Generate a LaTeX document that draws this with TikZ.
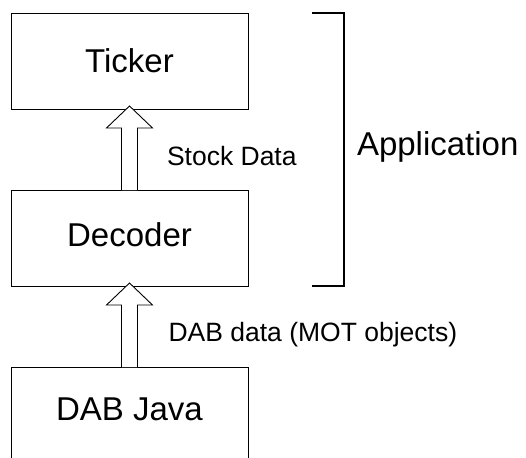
\documentclass[tikz,border=0pt]{standalone}
\usepackage{fontspec}
\setmainfont{Liberation Sans}
\usetikzlibrary{calc}
\tikzset{
  box/.style={draw=black, line width=0.9pt, minimum width=237pt, minimum height=96pt,
    inner sep=0pt, outer sep=0pt, font=\fontsize{33}{40}\selectfont},
  fatarrow/.style={draw=black, line width=0.9pt, fill=white, line join=miter},
  lbl/.style={inner sep=0pt, outer sep=0pt, font=\fontsize{26.5}{32}\selectfont},
  biglbl/.style={inner sep=0pt, outer sep=0pt, font=\fontsize{33}{40}\selectfont},
  bracket/.style={draw=black, line width=2pt}
}
\begin{document}
\begin{tikzpicture}[x=1pt, y=-1pt]
\clip (0,0) rectangle (526,457);
\fill[white] (0,0) rectangle (526,457);
\node[box] (tick) at (129.5,61) {Ticker};
\node[box, text depth=6pt] (dec) at (129.5,238) {Decoder};
\node[box, text depth=12pt] (dab) at (129.5,415) {DAB Java};
% fat arrows
\draw[fatarrow] ($(dec.north)+(-8,0)$) -- ($(tick.south)+(-8,19)$) -- ($(tick.south)+(-23,19)$)
  -- ($(tick.south)+(0,-3)$) -- ($(tick.south)+(23,19)$) -- ($(tick.south)+(8,19)$)
  -- ($(dec.north)+(8,0)$);
\draw[fatarrow] ($(dab.north)+(-8,0)$) -- ($(dec.south)+(-8,19)$) -- ($(dec.south)+(-23,19)$)
  -- ($(dec.south)+(0,-3)$) -- ($(dec.south)+(23,19)$) -- ($(dec.south)+(8,19)$)
  -- ($(dab.north)+(8,0)$);
% labels
\node[lbl, anchor=base west] (stock) at (167,165) {Stock Data};
\node[lbl, anchor=base west] (dabdata) at (168.5,341.7) {DAB data (MOT objects)};
% bracket
\coordinate (bt) at (312,13);
\coordinate (bb) at (312,286);
\draw[bracket] (bt) -- ++(32,0) |- (bb);
\node[biglbl, anchor=base west] (app) at (357,155) {Application};
\end{tikzpicture}
\end{document}
